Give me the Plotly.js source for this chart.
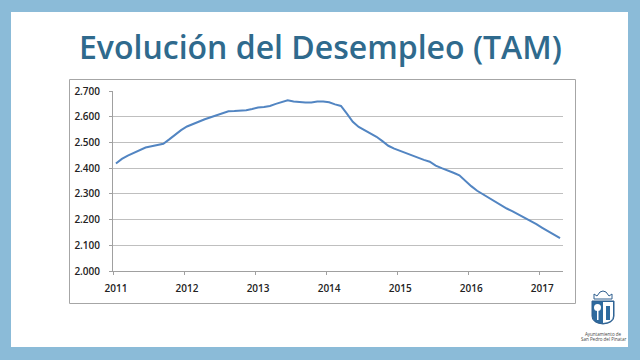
<!DOCTYPE html>
<html>
<head>
<meta charset="utf-8">
<script src="https://cdn.plot.ly/plotly-3.0.1.min.js"></script>
<style>
html,body{margin:0;padding:0;background:#8BBBD8;}
#chart{width:640px;height:360px;}
</style>
</head>
<body>
<div id="chart"></div>
<script>
// Monthly TAM unemployment, Jan 2011 .. Apr 2017
const monthIndex = [];
for (let i = 0; i < 76; i++) monthIndex.push(i);
const desempleo = [
  2418, 2436, 2449, 2460, 2470, 2480, 2485, 2489, 2495, 2512, 2530, 2548,
  2562, 2572, 2580, 2590, 2598, 2606, 2614, 2621, 2622, 2623, 2625, 2630,
  2636, 2638, 2642, 2650, 2658, 2664, 2659, 2656, 2655, 2655, 2659, 2659,
  2656, 2648, 2642, 2612, 2580, 2560, 2548, 2536, 2522, 2505, 2487, 2476,
  2467, 2457, 2448, 2440, 2432, 2425, 2410, 2400, 2392, 2382, 2372, 2350,
  2330, 2312, 2298, 2284, 2272, 2258, 2243, 2232, 2220, 2208, 2196, 2182,
  2168, 2155, 2142, 2128
];
const yearTickVals = [0, 12, 24, 36, 48, 60, 72];
const yearTickText = ["2011", "2012", "2013", "2014", "2015", "2016", "2017"];
const yTickVals = [2000, 2100, 2200, 2300, 2400, 2500, 2600, 2700];
const yTickText = ["2.000", "2.100", "2.200", "2.300", "2.400", "2.500", "2.600", "2.700"];
const titleText = "Evolución del Desempleo (TAM)";
const logoLines = ["Ayuntamiento de", "San Pedro del Pinatar"];

// pixel -> paper helpers (plot area 113..563 x, 91..271 y)
const L = 113, R = 563, T = 91, B = 271;
const px = x => (x - L) / (R - L);
const py = y => (B - y) / (B - T);

const trace = {
  x: monthIndex, y: desempleo, type: 'scatter', mode: 'lines',
  line: {color: '#5285C2', width: 2}, hoverinfo: 'skip'
};

const shapes = [
  {type:'rect', xref:'paper', yref:'paper', x0:px(11), x1:px(628), y0:py(347), y1:py(12),
   fillcolor:'#FFFFFF', line:{width:0}, layer:'below'},
  {type:'rect', xref:'paper', yref:'paper', x0:px(69.5), x1:px(575.5), y0:py(303.5), y1:py(79.5),
   fillcolor:'rgba(0,0,0,0)', line:{color:'#A6A6A6', width:1}, layer:'below'},
  {type:'path', xref:'paper', yref:'paper',
   path:`M ${px(594)} ${py(299)} L ${px(594)} ${py(294)} L ${px(597)} ${py(296)} L ${px(600)} ${py(292)} L ${px(603)} ${py(291)} L ${px(606)} ${py(292)} L ${px(609)} ${py(296)} L ${px(612)} ${py(294)} L ${px(612)} ${py(299)} Z`,
   fillcolor:'#FFFFFF', line:{color:'#2E5E8E', width:1}},
  {type:'path', xref:'paper', yref:'paper',
   path:`M ${px(592)} ${py(301)} L ${px(614)} ${py(301)} L ${px(614)} ${py(316)} Q ${px(614)} ${py(323)} ${px(603)} ${py(324)} Q ${px(592)} ${py(323)} ${px(592)} ${py(316)} Z`,
   fillcolor:'#2E6A9E', line:{color:'#2E5E8E', width:1}},
  {type:'path', xref:'paper', yref:'paper',
   path:`M ${px(603)} ${py(302)} L ${px(613)} ${py(302)} L ${px(613)} ${py(316)} Q ${px(613)} ${py(322)} ${px(603)} ${py(323)} Z`,
   fillcolor:'#FFFFFF', line:{width:0}},
  {type:'circle', xref:'paper', yref:'paper', x0:px(594), x1:px(601), y0:py(311), y1:py(304),
   fillcolor:'#FFFFFF', line:{width:0}},
  {type:'rect', xref:'paper', yref:'paper', x0:px(597), x1:px(598.5), y0:py(320), y1:py(310),
   fillcolor:'#FFFFFF', line:{width:0}},
  {type:'rect', xref:'paper', yref:'paper', x0:px(606), x1:px(610), y0:py(320), y1:py(306),
   fillcolor:'#2E6A9E', line:{width:0}}
];

const annotations = [
  {text: titleText, xref:'paper', yref:'paper', x:px(320), y:py(46), xanchor:'center', yanchor:'middle',
   showarrow:false, font:{family:'Open Sans, sans-serif', size:32, weight:600, color:'#2F6A8D'}},
  {text: logoLines[0], xref:'paper', yref:'paper', x:px(603), y:py(334), xanchor:'center', yanchor:'middle',
   showarrow:false, font:{family:'Open Sans, sans-serif', size:4.5, color:'#444'}},
  {text: logoLines[1], xref:'paper', yref:'paper', x:px(603), y:py(339), xanchor:'center', yanchor:'middle',
   showarrow:false, font:{family:'Open Sans, sans-serif', size:4.5, color:'#444'}}
];

const layout = {
  width: 640, height: 360,
  margin: {l: L, r: 640 - R, t: T, b: 360 - B, pad: 0},
  paper_bgcolor: '#8BBBD8', plot_bgcolor: 'rgba(0,0,0,0)',
  showlegend: false,
  xaxis: {
    range: [-0.5, 75.5], tickmode: 'array', tickvals: yearTickVals, ticktext: yearTickText,
    ticks: '', showgrid: false, zeroline: false,
    showline: true, linecolor: '#A0A0A0', linewidth: 1,
    ticklabelstandoff: 8,
    tickfont: {family: 'Open Sans, sans-serif', size: 10, weight: 600, color: '#222'},
    minor: {tickmode: 'linear', tick0: -0.5, dtick: 12, ticks: 'outside', ticklen: 3, tickcolor: '#A0A0A0', showgrid: false}
  },
  yaxis: {
    range: [2000, 2700], tickmode: 'array', tickvals: yTickVals, ticktext: yTickText,
    showgrid: true, gridcolor: '#BFBFBF', gridwidth: 1, zeroline: false,
    showline: true, linecolor: '#A0A0A0', linewidth: 1,
    ticks: 'outside', ticklen: 3, tickcolor: '#A0A0A0', ticklabelstandoff: 7,
    tickfont: {family: 'Open Sans, sans-serif', size: 10, weight: 600, color: '#222'}
  },
  shapes: shapes,
  annotations: annotations
};

Plotly.newPlot('chart', [trace], layout, {displayModeBar: false, staticPlot: true});
</script>
</body>
</html>
